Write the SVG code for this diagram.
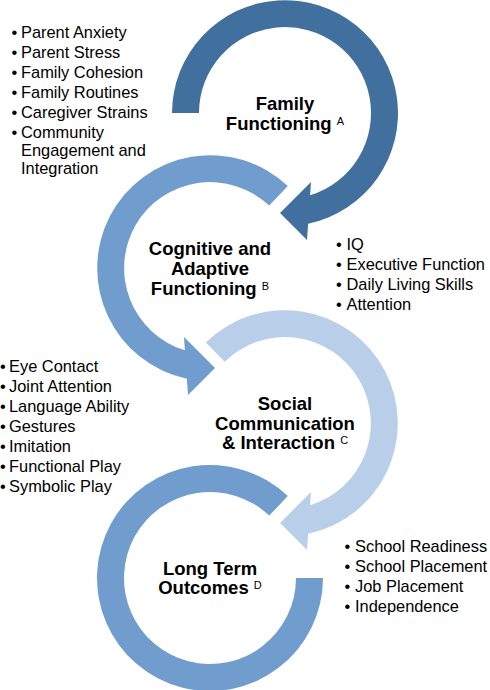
<svg xmlns="http://www.w3.org/2000/svg" width="490" height="690" viewBox="0 0 490 690">
<style>
.title{font-family:"Liberation Sans",Arial,sans-serif;font-weight:bold;font-size:18.5px;fill:#000;text-anchor:middle}
.sup{font-weight:normal;font-size:11px}
.item{font-family:"Liberation Sans",Arial,sans-serif;font-size:16.4px;fill:#000}
.a{fill:#41709f}
.b{fill:#709dcd}
.c{fill:#b9cfe9}
</style>
<rect width="490" height="690" fill="#fff"/>
<g id="connectors">
<path id="arrowA" class="a" d="M172,113 A113,113 0 1 1 308.12,223.76 L307,240 L280,213 L311,182 L310.08,195.34 A86,86 0 1 0 199,113 Z"/>
<path id="arrowB" class="b" d="M287.79,186.03 A113,113 0 1 0 186.88,378.76 L188,395 L215,368 L184,337 L184.92,350.34 A86,86 0 1 1 269.2,205.62 Z"/>
<path id="arrowC" class="c" d="M205.8,342.4 A113,113 0 1 1 308.12,533.76 L307,550 L280,523 L311,492 L310.08,505.34 A86,86 0 1 0 224.72,361.66 Z"/>
<path id="ringD" class="b" d="M287.79,496.03 A113,113 0 1 0 323,578 L296,578 A86,86 0 1 1 269.2,515.62 Z"/>
</g>
<g id="nodeA">
<text class="title" x="285" y="110">Family</text>
<text class="title" x="285" y="129.5">Functioning <tspan class="sup" dy="-5">A</tspan></text>
</g>
<g id="nodeB">
<text class="title" x="210" y="255">Cognitive and</text>
<text class="title" x="210" y="275">Adaptive</text>
<text class="title" x="210" y="295">Functioning <tspan class="sup" dy="-5">B</tspan></text>
</g>
<g id="nodeC">
<text class="title" x="285" y="410">Social</text>
<text class="title" x="285" y="429.5">Communication</text>
<text class="title" x="285" y="449">&amp; Interaction <tspan class="sup" dy="-5">C</tspan></text>
</g>
<g id="nodeD">
<text class="title" x="210" y="574.5">Long Term</text>
<text class="title" x="210" y="594">Outcomes <tspan class="sup" dy="-5">D</tspan></text>
</g>
<g id="listA">
<text class="item" y="38"><tspan x="11.5">•</tspan><tspan x="21">Parent Anxiety</tspan></text>
<text class="item" y="58"><tspan x="11.5">•</tspan><tspan x="21">Parent Stress</tspan></text>
<text class="item" y="78"><tspan x="11.5">•</tspan><tspan x="21">Family Cohesion</tspan></text>
<text class="item" y="98"><tspan x="11.5">•</tspan><tspan x="21">Family Routines</tspan></text>
<text class="item" y="118"><tspan x="11.5">•</tspan><tspan x="21">Caregiver Strains</tspan></text>
<text class="item" y="138"><tspan x="11.5">•</tspan><tspan x="21">Community</tspan></text>
<text class="item" x="21" y="156">Engagement and</text>
<text class="item" x="21" y="174">Integration</text>
</g>
<g id="listB">
<text class="item" y="250"><tspan x="336">•</tspan><tspan x="346.5">IQ</tspan></text>
<text class="item" y="270"><tspan x="336">•</tspan><tspan x="346.5">Executive Function</tspan></text>
<text class="item" y="290"><tspan x="336">•</tspan><tspan x="346.5">Daily Living Skills</tspan></text>
<text class="item" y="310"><tspan x="336">•</tspan><tspan x="346.5">Attention</tspan></text>
</g>
<g id="listC">
<text class="item" y="372"><tspan x="0">•</tspan><tspan x="9">Eye Contact</tspan></text>
<text class="item" y="392"><tspan x="0">•</tspan><tspan x="9">Joint Attention</tspan></text>
<text class="item" y="412"><tspan x="0">•</tspan><tspan x="9">Language Ability</tspan></text>
<text class="item" y="432"><tspan x="0">•</tspan><tspan x="9">Gestures</tspan></text>
<text class="item" y="452"><tspan x="0">•</tspan><tspan x="9">Imitation</tspan></text>
<text class="item" y="472"><tspan x="0">•</tspan><tspan x="9">Functional Play</tspan></text>
<text class="item" y="492"><tspan x="0">•</tspan><tspan x="9">Symbolic Play</tspan></text>
</g>
<g id="listD">
<text class="item" y="552"><tspan x="344.5">•</tspan><tspan x="355">School Readiness</tspan></text>
<text class="item" y="572"><tspan x="344.5">•</tspan><tspan x="355">School Placement</tspan></text>
<text class="item" y="592"><tspan x="344.5">•</tspan><tspan x="355">Job Placement</tspan></text>
<text class="item" y="612"><tspan x="344.5">•</tspan><tspan x="355">Independence</tspan></text>
</g>
</svg>
